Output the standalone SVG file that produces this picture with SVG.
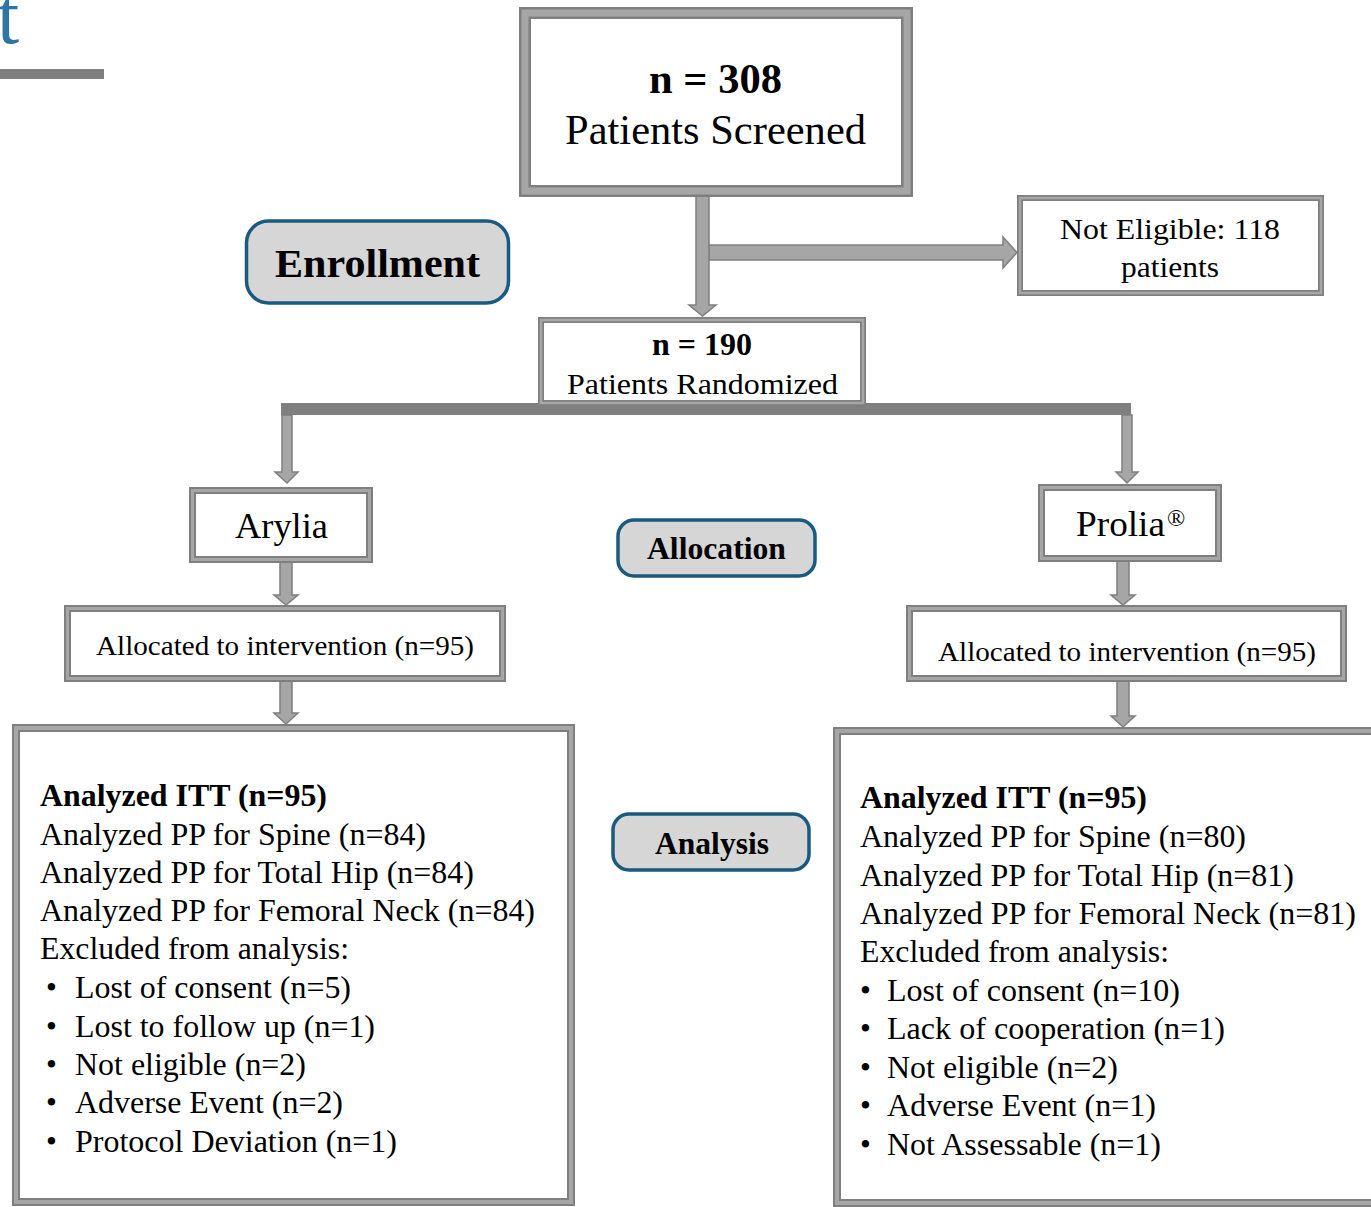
<svg xmlns="http://www.w3.org/2000/svg" width="1371" height="1207" viewBox="0 0 1371 1207">
<style>
.o{fill:none;stroke:#7f7f7f}
.i{fill:none;stroke:#a6a6a6}
.w{fill:#fff}
.ar{fill:#a6a6a6;stroke:#7f7f7f;stroke-width:1.5}
.pill{fill:#d6d6d6;stroke:#1b5a80;stroke-width:3.5}
text{font-family:"Liberation Serif","Times New Roman",serif;fill:#000}
.b{font-weight:bold}
.c{text-anchor:middle}
</style>
<rect width="1371" height="1207" fill="#fff"/>
<g id="corner">
<text x="-3" y="43" font-size="80" style="fill:#2e75a6">t</text>
<rect x="0" y="69" width="104" height="10" fill="#7f7f7f"/>
</g>
<g id="connectors">
<rect x="281" y="403" width="850" height="12" fill="#7f7f7f"/>
<polygon class="ar" points="709,245 1003,245 1003,237 1017,252.5 1003,268 1003,260 709,260"/>
<polygon class="ar" points="696,192 709,192 709,305 716,305 702.5,316 689,305 696,305"/>
<polygon class="ar" points="282,415 292,415 292,472 298,472 287,483 275,472 282,472"/>
<polygon class="ar" points="1122,415 1132,415 1132,472 1138,472 1127,483 1116,472 1122,472"/>
<polygon class="ar" points="280,562 292,562 292,595 298,595 286,605 274,595 280,595"/>
<polygon class="ar" points="280,681 292,681 292,713 298,713 286,724 274,713 280,713"/>
<polygon class="ar" points="1117,561 1129,561 1129,595 1135,595 1123,605 1111,595 1117,595"/>
<polygon class="ar" points="1117,681 1129,681 1129,716 1135,716 1123,727 1111,716 1117,716"/>
</g>
<g id="screened">
<rect class="w" x="525" y="13" width="382" height="178"/>
<rect class="o" x="525" y="13" width="382" height="178" stroke-width="12"/>
<rect class="i" x="525" y="13" width="382" height="178" stroke-width="7"/>
<text class="b" x="649" y="93" font-size="42" textLength="133" lengthAdjust="spacingAndGlyphs">n = 308</text>
<text x="565" y="144" font-size="42" textLength="301" lengthAdjust="spacingAndGlyphs">Patients Screened</text>
</g>
<g id="noteligible">
<rect class="w" x="1020" y="198" width="301" height="95"/>
<rect class="o" x="1020" y="198" width="301" height="95" stroke-width="6"/>
<rect class="i" x="1020" y="198" width="301" height="95" stroke-width="2.5"/>
<text x="1060" y="239" font-size="30" textLength="220" lengthAdjust="spacingAndGlyphs">Not Eligible: 118</text>
<text x="1121" y="277" font-size="30" textLength="98" lengthAdjust="spacingAndGlyphs">patients</text>
</g>
<g id="enrollment">
<rect class="pill" x="246.5" y="221" width="262" height="82" rx="22"/>
<text class="b" x="275" y="277" font-size="41" textLength="205" lengthAdjust="spacingAndGlyphs">Enrollment</text>
</g>
<g id="randomized">
<rect class="w" x="541" y="320" width="322" height="83"/>
<rect class="o" x="541" y="320" width="322" height="83" stroke-width="6"/>
<rect class="i" x="541" y="320" width="322" height="83" stroke-width="2.5"/>
<text class="b" x="652" y="355" font-size="31" textLength="100" lengthAdjust="spacingAndGlyphs">n = 190</text>
<text x="567" y="394" font-size="30" textLength="271" lengthAdjust="spacingAndGlyphs">Patients Randomized</text>
</g>
<g id="arylia">
<rect class="w" x="192.5" y="490.5" width="177" height="69"/>
<rect class="o" x="192.5" y="490.5" width="177" height="69" stroke-width="7"/>
<rect class="i" x="192.5" y="490.5" width="177" height="69" stroke-width="3"/>
<text x="235" y="538" font-size="36" textLength="93" lengthAdjust="spacingAndGlyphs">Arylia</text>
</g>
<g id="prolia">
<rect class="w" x="1041.5" y="487.5" width="177" height="71"/>
<rect class="o" x="1041.5" y="487.5" width="177" height="71" stroke-width="7"/>
<rect class="i" x="1041.5" y="487.5" width="177" height="71" stroke-width="3"/>
<text x="1076" y="536" font-size="36" textLength="89" lengthAdjust="spacingAndGlyphs">Prolia</text>
<text x="1167" y="526" font-size="24">®</text>
</g>
<g id="allocation">
<rect class="pill" x="618" y="520" width="197" height="56" rx="16"/>
<text class="b" x="647" y="559" font-size="31" textLength="139" lengthAdjust="spacingAndGlyphs">Allocation</text>
</g>
<g id="allocL">
<rect class="w" x="67.5" y="608.5" width="435" height="70"/>
<rect class="o" x="67.5" y="608.5" width="435" height="70" stroke-width="7"/>
<rect class="i" x="67.5" y="608.5" width="435" height="70" stroke-width="3"/>
<text x="96" y="655" font-size="28" textLength="378" lengthAdjust="spacingAndGlyphs">Allocated to intervention (n=95)</text>
</g>
<g id="allocR">
<rect class="w" x="909.5" y="608.5" width="434" height="70"/>
<rect class="o" x="909.5" y="608.5" width="434" height="70" stroke-width="7"/>
<rect class="i" x="909.5" y="608.5" width="434" height="70" stroke-width="3"/>
<text x="938" y="661" font-size="28" textLength="378" lengthAdjust="spacingAndGlyphs">Allocated to intervention (n=95)</text>
</g>
<g id="analysis">
<rect class="pill" x="613" y="814" width="196" height="56" rx="16"/>
<text class="b" x="655" y="854" font-size="31" textLength="114" lengthAdjust="spacingAndGlyphs">Analysis</text>
</g>
<g id="analysisL">
<rect class="w" x="16" y="728" width="555" height="474"/>
<rect class="o" x="16" y="728" width="555" height="474" stroke-width="8"/>
<rect class="i" x="16" y="728" width="555" height="474" stroke-width="4"/>
<g font-size="31">
<text class="b" x="40" y="806" textLength="287" lengthAdjust="spacingAndGlyphs">Analyzed ITT (n=95)</text>
<text x="40" y="845" textLength="386" lengthAdjust="spacingAndGlyphs">Analyzed PP for Spine (n=84)</text>
<text x="40" y="883" textLength="434" lengthAdjust="spacingAndGlyphs">Analyzed PP for Total Hip (n=84)</text>
<text x="40" y="921" textLength="495" lengthAdjust="spacingAndGlyphs">Analyzed PP for Femoral Neck (n=84)</text>
<text x="40" y="959" textLength="309" lengthAdjust="spacingAndGlyphs">Excluded from analysis:</text>
<text x="46" y="998">•</text><text x="75" y="998" textLength="276" lengthAdjust="spacingAndGlyphs">Lost of consent (n=5)</text>
<text x="46" y="1037">•</text><text x="75" y="1037" textLength="300" lengthAdjust="spacingAndGlyphs">Lost to follow up (n=1)</text>
<text x="46" y="1075">•</text><text x="75" y="1075" textLength="231" lengthAdjust="spacingAndGlyphs">Not eligible (n=2)</text>
<text x="46" y="1113">•</text><text x="75" y="1113" textLength="268" lengthAdjust="spacingAndGlyphs">Adverse Event (n=2)</text>
<text x="46" y="1152">•</text><text x="75" y="1152" textLength="322" lengthAdjust="spacingAndGlyphs">Protocol Deviation (n=1)</text>
</g>
</g>
<g id="analysisR">
<rect class="w" x="837" y="731" width="545" height="472"/>
<rect class="o" x="837" y="731" width="545" height="472" stroke-width="8"/>
<rect class="i" x="837" y="731" width="545" height="472" stroke-width="4"/>
<g font-size="31">
<text class="b" x="860" y="808" textLength="287" lengthAdjust="spacingAndGlyphs">Analyzed ITT (n=95)</text>
<text x="860" y="847" textLength="386" lengthAdjust="spacingAndGlyphs">Analyzed PP for Spine (n=80)</text>
<text x="860" y="886" textLength="434" lengthAdjust="spacingAndGlyphs">Analyzed PP for Total Hip (n=81)</text>
<text x="860" y="924" textLength="496" lengthAdjust="spacingAndGlyphs">Analyzed PP for Femoral Neck (n=81)</text>
<text x="860" y="962" textLength="309" lengthAdjust="spacingAndGlyphs">Excluded from analysis:</text>
<text x="860" y="1001">•</text><text x="887" y="1001" textLength="293" lengthAdjust="spacingAndGlyphs">Lost of consent (n=10)</text>
<text x="860" y="1039">•</text><text x="887" y="1039" textLength="338" lengthAdjust="spacingAndGlyphs">Lack of cooperation (n=1)</text>
<text x="860" y="1078">•</text><text x="887" y="1078" textLength="231" lengthAdjust="spacingAndGlyphs">Not eligible (n=2)</text>
<text x="860" y="1116">•</text><text x="887" y="1116" textLength="269" lengthAdjust="spacingAndGlyphs">Adverse Event (n=1)</text>
<text x="860" y="1155">•</text><text x="887" y="1155" textLength="274" lengthAdjust="spacingAndGlyphs">Not Assessable (n=1)</text>
</g>
</g>
</svg>
